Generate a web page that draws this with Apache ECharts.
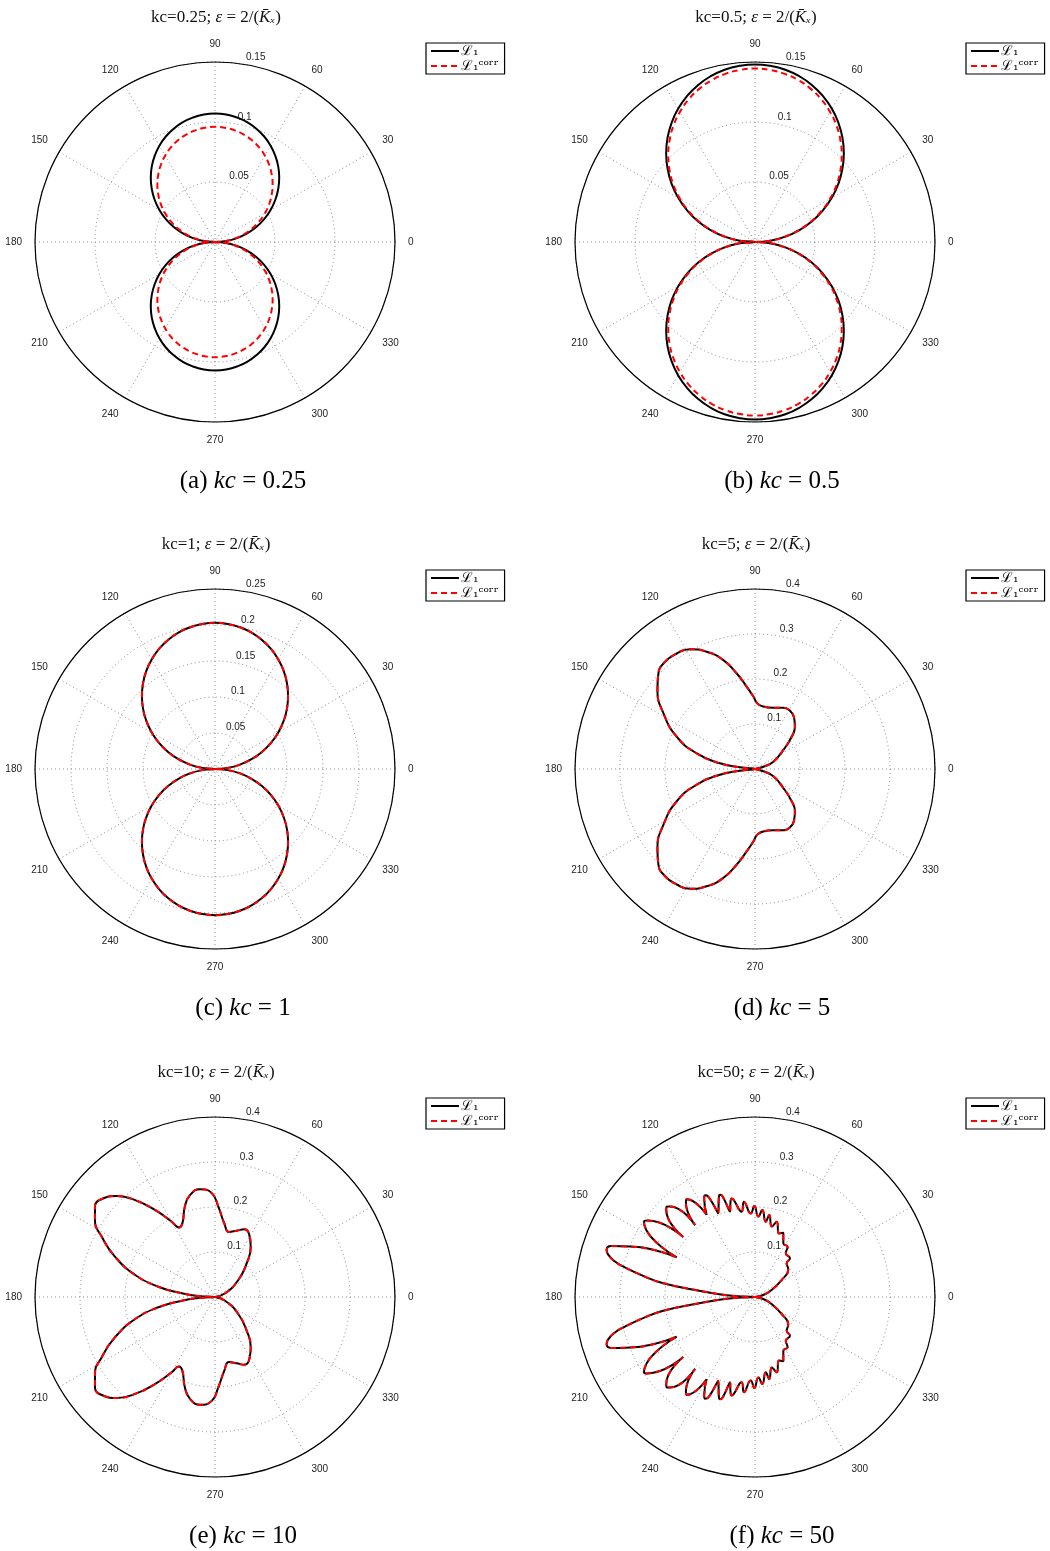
<!DOCTYPE html>
<html lang="en">
<head>
<meta charset="UTF-8">
<title>Polar patterns</title>
<script src="https://cdn.jsdelivr.net/npm/echarts@6/dist/echarts.min.js"></script>
<style>
  html, body { margin: 0; padding: 0; background: #fff; }
  #chart { width: 1050px; height: 1551px; }
</style>
</head>
<body>
<div id="chart"></div>
<script>
// upper half of every curve (0..180 deg); the lower half is its mirror image
const thetaCircle = [0, 5, 10, 15, 20, 25, 30, 35, 40, 45, 50, 55, 60, 65, 70, 75, 80, 85, 90,
  95, 100, 105, 110, 115, 120, 125, 130, 135, 140, 145, 150, 155, 160, 165, 170, 175, 180];

// kc = 0.25
const rA_L1   = [0, .0093, .0186, .0277, .0366, .0452, .0535, .0614, .0688, .0757, .0820, .0876, .0927, .0970, .1005, .1034, .1054, .1066, .1070,
  .1066, .1054, .1034, .1005, .0970, .0927, .0876, .0820, .0757, .0688, .0614, .0535, .0452, .0366, .0277, .0186, .0093, 0];
const rA_corr = [0, .0084, .0167, .0248, .0328, .0406, .0480, .0551, .0617, .0679, .0735, .0786, .0831, .0870, .0902, .0927, .0945, .0956, .0960,
  .0956, .0945, .0927, .0902, .0870, .0831, .0786, .0735, .0679, .0617, .0551, .0480, .0406, .0328, .0248, .0167, .0084, 0];
// kc = 0.5
const rB_L1   = [0, .0129, .0257, .0383, .0506, .0625, .0740, .0849, .0951, .1047, .1134, .1212, .1282, .1341, .1391, .1430, .1458, .1474, .1480,
  .1474, .1458, .1430, .1391, .1341, .1282, .1212, .1134, .1047, .0951, .0849, .0740, .0625, .0506, .0383, .0257, .0129, 0];
const rB_corr = [0, .0126, .0251, .0374, .0494, .0611, .0723, .0829, .0929, .1022, .1107, .1184, .1251, .1310, .1358, .1396, .1423, .1439, .1445,
  .1439, .1423, .1396, .1358, .1310, .1251, .1184, .1107, .1022, .0929, .0829, .0723, .0611, .0494, .0374, .0251, .0126, 0];
// kc = 1 (both curves coincide)
const rC_L1   = [0, .0177, .0353, .0525, .0694, .0858, .1015, .1164, .1305, .1435, .1555, .1663, .1758, .1840, .1908, .1961, .1999, .2022, .2030,
  .2022, .1999, .1961, .1908, .1840, .1758, .1663, .1555, .1435, .1305, .1164, .1015, .0858, .0694, .0525, .0353, .0177, 0];

// kc = 5
const thetaD = [0, 15.5, 21.8, 33.9, 41.4, 46.6, 53, 59, 65.2, 73.4, 82.4, 88, 91.3, 95.8, 100.8, 106.2, 112.4, 118.5, 124.1, 130, 135.3, 141, 148.7, 157.6, 165, 170.8, 173.6, 180];
const rD     = [0, 0.019, 0.044, 0.076, 0.109, 0.129, 0.144, 0.151, 0.150, 0.142, 0.140, 0.146, 0.161, 0.184, 0.216, 0.252, 0.282, 0.303, 0.310, 0.311, 0.302, 0.279, 0.238, 0.188, 0.134, 0.079, 0.034, 0];

// kc = 10
const thetaE = [0, 20, 36.1, 46.8, 54.6, 61.9, 66.6, 71.9, 77.9, 82.8, 87.9, 91.8, 97.9, 103.8, 108.4, 113.9, 117.4, 119.9, 124.6, 129.5, 134.2, 138.5, 143, 147.3, 152, 158, 164.6, 169.7, 173.7, 176.6, 180];
const rE     = [0, 0.024, 0.064, 0.103, 0.137, 0.160, 0.164, 0.155, 0.148, 0.165, 0.201, 0.231, 0.242, 0.233, 0.212, 0.179, 0.174, 0.193, 0.235, 0.279, 0.313, 0.331, 0.334, 0.317, 0.285, 0.240, 0.184, 0.128, 0.074, 0.037, 0];

// kc = 50
const thetaF = [0, 13.5, 22.7, 32.5, 39.7, 46.8, 47.9, 54.9, 57, 62.2, 66.2, 69.4, 73.9, 76.6, 80.1, 81.9, 85.2, 87.6, 90.4, 92.9, 96.6, 98.9,
  102.4, 103.3, 104.2, 106.3, 107.9, 108.9, 109.9, 113.7, 115.0, 116.1, 117.2, 120.5, 123.8, 125, 126.2, 129.8,
  133.2, 134.4, 135.6, 140.1, 144.6, 145.8, 147.0, 153.1, 155, 158, 160.5, 162.4, 164, 165.8, 167, 169.5, 171.5, 173.3, 174.9, 177.5, 180];
const rF     = [0, 0.019, 0.040, 0.070, 0.096, 0.103, 0.116, 0.119, 0.133, 0.135, 0.156, 0.151, 0.174, 0.161, 0.185, 0.169, 0.194, 0.179, 0.202, 0.186, 0.213, 0.192,
  0.221, 0.225, 0.221, 0.198, 0.236, 0.240, 0.236, 0.203, 0.247, 0.252, 0.247, 0.212, 0.260, 0.265, 0.260, 0.208,
  0.276, 0.281, 0.276, 0.208, 0.293, 0.298, 0.293, 0.195, 0.247, 0.299, 0.339, 0.346, 0.339, 0.321, 0.300, 0.249, 0.206, 0.134, 0.093, 0.045, 0];

const kcLabels = ['0.25', '0.5', '1', '5', '10', '50'];
const letters  = ['a', 'b', 'c', 'd', 'e', 'f'];
const rMax     = [0.15, 0.15, 0.25, 0.4, 0.4, 0.4];
const rStep    = [0.05, 0.05, 0.05, 0.1, 0.1, 0.1];
const angleTicks = [0, 30, 60, 90, 120, 150, 180, 210, 240, 270, 300, 330];

const curves = [
  [thetaCircle, rA_L1, rA_corr],
  [thetaCircle, rB_L1, rB_corr],
  [thetaCircle, rC_L1, rC_L1],
  [thetaD, rD, rD],
  [thetaE, rE, rE],
  [thetaF, rF, rF]
];
const smoothness = [0.5, 0.5, 0.5, 0.5, 0.5, 0.5];

const NAME_L1 = 'ℒ₁';
const NAME_CORR = 'ℒ₁ᶜᵒʳʳ';

// polar points [r, theta] for the whole closed curve
function closedCurve(theta, r) {
  const upper = theta.map((t, i) => [r[i], t]);
  const lower = upper.slice(0, -1).reverse().map(p => [p[0], 360 - p[1]]);
  return upper.concat(lower);
}

const colX = [215, 755];
const rowY = [242, 769, 1297];
const capX = [238, 777];
const R = 180;
const gridLine = { color: '#8a8a8a', width: 1, type: [1, 3] };
const serif = 'Liberation Serif';

const polar = [], angleAxis = [], radiusAxis = [], series = [], legend = [], title = [];

for (let i = 0; i < 6; i++) {
  const cx = colX[i % 2], cy = rowY[Math.floor(i / 2)];
  polar.push({ center: [cx, cy], radius: R });

  angleAxis.push({
    polarIndex: i, type: 'value', min: 0, max: 360, interval: 30,
    startAngle: 0, clockwise: false,
    axisLine: { lineStyle: { color: '#000', width: 1.2 } },
    axisTick: { show: false },
    axisLabel: {
      margin: 13, fontSize: 10, color: '#222', fontFamily: 'Liberation Sans',
      formatter: v => angleTicks.indexOf(v) >= 0 ? String(v) : ''
    },
    splitLine: { show: true, lineStyle: gridLine }
  });
  radiusAxis.push({
    polarIndex: i, type: 'value', min: 0, max: rMax[i], interval: rStep[i],
    axisLine: { show: false }, axisTick: { show: false }, axisLabel: { show: false },
    splitLine: { show: true, lineStyle: gridLine }
  });

  const [th, r1, r2] = curves[i];
  series.push({
    name: NAME_L1, type: 'line', coordinateSystem: 'polar', polarIndex: i,
    data: closedCurve(th, r1), symbol: 'none', smooth: smoothness[i], z: 3,
    lineStyle: { color: '#000', width: 2 }, itemStyle: { color: '#000' }
  });
  series.push({
    name: NAME_CORR, type: 'line', coordinateSystem: 'polar', polarIndex: i,
    data: closedCurve(th, r2), symbol: 'none', smooth: smoothness[i], z: 4,
    lineStyle: { color: '#ff0000', width: 2, type: [6, 4] }, itemStyle: { color: '#ff0000' }
  });

  legend.push({
    data: [NAME_L1, NAME_CORR], selectedMode: false, orient: 'vertical',
    left: cx + 211, top: cy - 199,
    borderColor: '#000', borderWidth: 1.2, padding: [1, 6, 1, 4], itemGap: 1,
    itemWidth: 28, itemHeight: 17,
    itemStyle: { opacity: 0 },
    textStyle: { fontFamily: 'DejaVu Serif', fontSize: 14, color: '#000', padding: [0, 0, 0, -3] }
  });

  title.push({
    text: '{r|kc=' + kcLabels[i] + '; }{i|ε}{r| = 2/(}{i|K̄ₓ}{r|)}',
    left: cx - 4, top: cy - 238,
    textStyle: { rich: {
      r: { fontFamily: serif, fontSize: 17, fontWeight: 'normal', color: '#111' },
      i: { fontFamily: serif, fontSize: 17, fontWeight: 'normal', fontStyle: 'italic', color: '#111' }
    } }
  });
  title.push({
    text: '{r|(' + letters[i] + ') }{i|kc}{r| = ' + kcLabels[i] + '}',
    left: capX[i % 2], top: cy + 222,
    textStyle: { rich: {
      r: { fontFamily: serif, fontSize: 25, fontWeight: 'normal', color: '#000' },
      i: { fontFamily: serif, fontSize: 25, fontWeight: 'normal', fontStyle: 'italic', color: '#000' }
    } }
  });
}

// second set of polar systems only for the radial tick labels along the ~82 deg ray
for (let i = 0; i < 6; i++) {
  const cx = colX[i % 2], cy = rowY[Math.floor(i / 2)];
  polar.push({ center: [cx, cy], radius: R });
  angleAxis.push({
    polarIndex: 6 + i, type: 'value', min: 0, max: 360, startAngle: 82, clockwise: false, show: false
  });
  radiusAxis.push({
    polarIndex: 6 + i, type: 'value', min: 0, max: rMax[i], interval: rStep[i],
    axisLine: { show: false }, axisTick: { show: false }, splitLine: { show: false },
    axisLabel: {
      show: true, margin: -6, align: 'left', verticalAlign: 'bottom', padding: [0, 0, 2, 0],
      fontSize: 10, color: '#222', fontFamily: 'Liberation Sans',
      formatter: v => v === 0 ? '' : String(+v.toFixed(2))
    }
  });
}

const chart = echarts.init(document.getElementById('chart'));
chart.setOption({
  animation: false,
  backgroundColor: '#fff',
  title: title.map(t => Object.assign({ textAlign: 'center' }, t)),
  polar, angleAxis, radiusAxis, legend, series
});
</script>
</body>
</html>
